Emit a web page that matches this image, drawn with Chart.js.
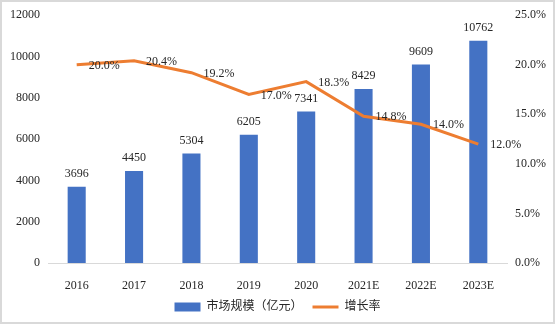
<!DOCTYPE html>
<html>
<head>
<meta charset="utf-8">
<script src="https://cdn.jsdelivr.net/npm/chart.js@4"></script>
<style>
  html, body { margin: 0; padding: 0; background: #fff; }
  #wrap { width: 555px; height: 324px; }
</style>
</head>
<body>
<div id="wrap"><canvas id="marketChart" width="555" height="324"></canvas></div>
<script>
const years = ['2016', '2017', '2018', '2019', '2020', '2021E', '2022E', '2023E'];
const marketSize = [3696, 4450, 5304, 6205, 7341, 8429, 9609, 10762];
const growthRate = [20.0, 20.4, 19.2, 17.0, 18.3, 14.8, 14.0, 12.0];
const leftTicks = [0, 2000, 4000, 6000, 8000, 10000, 12000];
const rightTicks = [0, 5, 10, 15, 20, 25];

const FONT = '"Liberation Serif", "Noto Sans CJK SC", serif';
const BLUE = '#4472C4';
const ORANGE = '#ED7D31';

// value labels: above bars, right of line points
const valueLabels = {
    id: 'valueLabels',
    afterDatasetsDraw(chart) {
        const c = chart.ctx;
        c.save();
        c.font = '12px ' + FONT;
        c.fillStyle = '#262626';
        chart.getDatasetMeta(0).data.forEach((bar, i) => {
            c.textAlign = 'center';
            c.textBaseline = 'bottom';
            c.fillText(String(marketSize[i]), bar.x, bar.y - 7);
        });
        chart.getDatasetMeta(1).data.forEach((pt, i) => {
            c.textAlign = 'left';
            c.textBaseline = 'middle';
            c.fillText(growthRate[i].toFixed(1) + '%', pt.x + 12, pt.y + 1);
        });
        c.restore();
    }
};

const frame = {
    id: 'frame',
    afterDraw(chart) {
        const c = chart.ctx;
        c.save();
        c.strokeStyle = '#d9d9d9';
        c.lineWidth = 2;
        c.strokeRect(1, 1, chart.width - 2, chart.height - 2);
        c.restore();
    }
};

const ctx = document.getElementById('marketChart').getContext('2d');
const marketChart = new Chart(ctx, {
    type: 'bar',
    data: {
        labels: years,
        datasets: [{
            type: 'bar',
            label: '市场规模（亿元）',
            data: marketSize,
            backgroundColor: BLUE,
            borderWidth: 0,
            barPercentage: 0.63,
            categoryPercentage: 0.5,
            yAxisID: 'y',
            order: 2,
            pointStyle: 'rect'
        }, {
            type: 'line',
            label: '增长率',
            data: growthRate,
            borderColor: ORANGE,
            backgroundColor: ORANGE,
            borderWidth: 3,
            pointRadius: 0,
            tension: 0,
            yAxisID: 'y1',
            order: 1,
            pointStyle: 'line'
        }]
    },
    options: {
        responsive: false,
        animation: false,
        layout: { padding: { top: 15, left: 0, right: 0, bottom: 1 } },
        plugins: {
            tooltip: { enabled: false },
            legend: {
                position: 'bottom',
                labels: {
                    usePointStyle: true,
                    pointStyleWidth: 26,
                    boxHeight: 9,
                    padding: 10,
                    color: '#262626',
                    font: { size: 12, family: FONT },
                    sort: (a, b) => a.datasetIndex - b.datasetIndex
                }
            }
        },
        scales: {
            x: {
                grid: { display: false },
                border: { display: true, color: '#d9d9d9', width: 1 },
                ticks: { color: '#262626', font: { size: 12, family: FONT }, padding: 8, maxRotation: 0 },
                afterFit: (s) => { s.height = 28; }
            },
            y: {
                position: 'left',
                min: 0,
                max: 12000,
                grid: { display: false, drawTicks: false },
                border: { display: false },
                afterBuildTicks: (s) => { s.ticks = leftTicks.map(v => ({ value: v })); },
                ticks: {
                    color: '#262626',
                    font: { size: 12, family: FONT },
                    padding: 8,
                    callback: (v) => String(v)
                },
                afterFit: (s) => { s.width = 48; }
            },
            y1: {
                position: 'right',
                min: 0,
                max: 25,
                grid: { display: false, drawTicks: false },
                border: { display: false },
                afterBuildTicks: (s) => { s.ticks = rightTicks.map(v => ({ value: v })); },
                ticks: {
                    color: '#262626',
                    font: { size: 12, family: FONT },
                    padding: 8,
                    callback: (v) => Number(v).toFixed(1) + '%'
                },
                afterFit: (s) => { s.width = 48; }
            }
        }
    },
    plugins: [valueLabels, frame]
});
</script>
</body>
</html>
